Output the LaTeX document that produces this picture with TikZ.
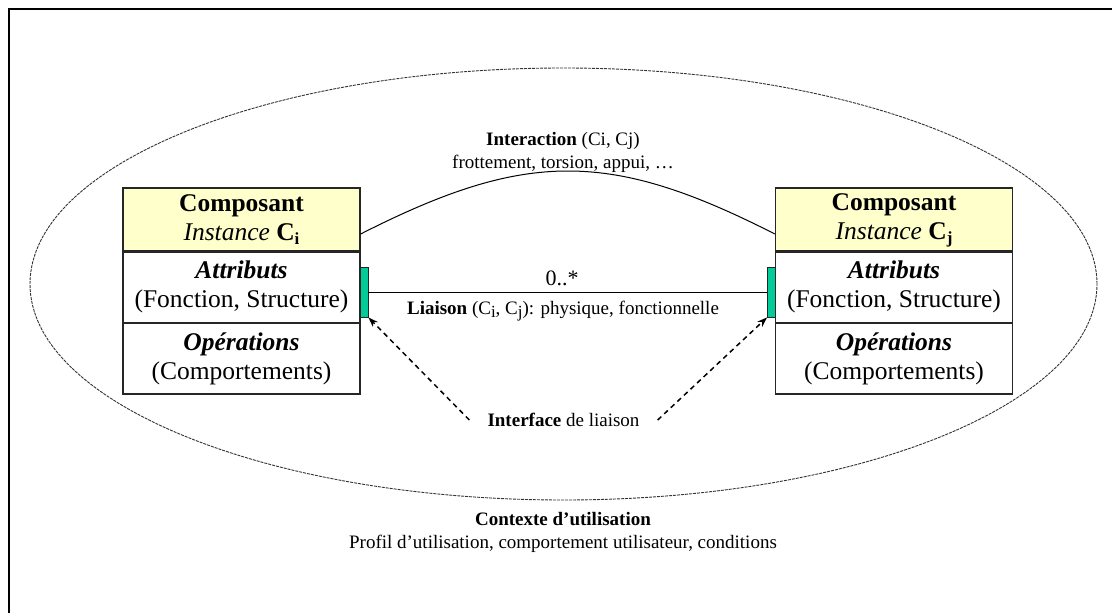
\documentclass[tikz,border=0pt]{standalone}
\usepackage{fontspec}
\setmainfont{Liberation Serif}
\usetikzlibrary{arrows.meta,calc}
\definecolor{headfill}{HTML}{FFFFCC}
\definecolor{portfill}{HTML}{00CC99}
\definecolor{ctxline}{HTML}{333333}
% lowered index letter used after C
\newcommand\lowidx[1]{\raisebox{-0.35ex}{\fontsize{17}{17}\selectfont #1}}
\begin{document}
\begin{tikzpicture}[x=1pt,y=-1pt,
  big/.style={font=\fontsize{25.5}{29}\selectfont},
  small/.style={font=\fontsize{19}{23}\selectfont},
  cell/.style={draw=black!85, line width=1.3pt, minimum width=237pt, inner sep=0pt, align=center, big},
  head/.style={cell, fill=headfill, minimum height=64pt},
  attr/.style={cell, minimum height=72pt},
  oper/.style={cell, minimum height=71pt},
  port/.style={draw=black!85, line width=0.8pt, fill=portfill, minimum width=8pt, minimum height=50pt, inner sep=0pt},
  link/.style={line width=1pt},
  hint/.style={line width=1.5pt, dash pattern=on 5pt off 4pt, -{Stealth[length=10pt,width=7pt]}},
  context/.style={draw=ctxline, line width=0.9pt, dash pattern=on 3pt off 1pt},
]
\useasboundingbox (0,0) rectangle (1112,613);

% outer frame (top and left edges)
\draw[line width=2.2pt] (9,613) -- (9,9) -- (1112,9);

% usage context
\draw[context] (563.5,284) ellipse [x radius=533.5pt, y radius=216pt];

% component Ci
\node[head] (headI) at (241.5,220) {{\bfseries Composant}\\{\itshape Instance} \textbf{C}\lowidx{\textbf{i}}};
\node[attr] (attrI) at (241.5,287) {{\bfseries\itshape Attributs}\\(Fonction, Structure)};
\node[oper] (operI) at (241.5,358.5) {{\bfseries\itshape Opérations}\\(Comportements)};

% component Cj
\node[head] (headJ) at (894,220) {{\bfseries Composant}\\{\itshape Instance} \textbf{C}\lowidx{\textbf{j}}};
\node[attr] (attrJ) at (894,287) {{\bfseries\itshape Attributs}\\(Fonction, Structure)};
\node[oper] (operJ) at (894,358.5) {{\bfseries\itshape Opérations}\\(Comportements)};

% interface ports
\node[port] (portI) at (364,292) {};
\node[port] (portJ) at (771.5,292) {};

% interaction curve
\coordinate (intI) at ([yshift=-14pt]headI.east);
\coordinate (intJ) at ([yshift=-14pt]headJ.west);
\draw[link] (intI) .. controls (526,150) and (610,150) .. (intJ);
\node[small, align=center] (interaction) at (563,152)
  {\textbf{Interaction} (Ci, Cj)\\frottement, torsion, appui, …};

% liaison
\draw[link] (portI.east) -- (portJ.west);
\node[font=\fontsize{22}{22}\selectfont] (mult) at (562,278) {0..*};
\node[small] (liaison) at (563,311)
  {\textbf{Liaison} (C\lowidx{i}, C\lowidx{j}): physique, fonctionnelle};

% interface label
\node[small, inner xsep=18pt] (iface) at (563.5,420) {\textbf{Interface} de liaison};
\draw[hint] (iface.west) -- (portI.south east);
\draw[hint] (iface.east) -- (portJ.south west);

% context label
\node[small, align=center] (ctx) at (563,532)
  {\textbf{Contexte d’utilisation}\\Profil d’utilisation, comportement utilisateur, conditions};
\end{tikzpicture}
\end{document}
